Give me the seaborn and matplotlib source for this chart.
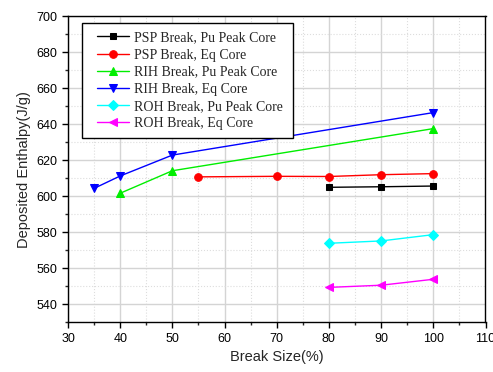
import matplotlib
matplotlib.use("Agg")
import matplotlib.pyplot as plt
import seaborn as sns
from matplotlib.ticker import MultipleLocator
from matplotlib.legend_handler import HandlerLine2D

# Data
psp_pu_x = [80, 90, 100]
psp_pu_y = [605.0, 605.3, 605.7]
psp_eq_x = [55, 70, 80, 90, 100]
psp_eq_y = [610.8, 611.1, 611.0, 612.0, 612.6]
rih_pu_x = [40, 50, 100]
rih_pu_y = [601.7, 614.2, 637.6]
rih_eq_x = [35, 40, 50, 100]
rih_eq_y = [604.4, 611.3, 622.9, 646.5]
roh_pu_x = [80, 90, 100]
roh_pu_y = [573.9, 575.2, 578.7]
roh_eq_x = [80, 90, 100]
roh_eq_y = [549.4, 550.6, 553.9]

labels = ["PSP Break, Pu Peak Core", "PSP Break, Eq Core",
          "RIH Break, Pu Peak Core", "RIH Break, Eq Core",
          "ROH Break, Pu Peak Core", "ROH Break, Eq Core"]

sns.set_style("ticks")
plt.rcParams['font.family'] = ['Liberation Sans', 'DejaVu Sans']

fig = plt.figure(figsize=(4.93, 3.72), dpi=100)
ax = fig.add_axes([68/493, 1-322.3/372, (485.5-68)/493, (322.3-16.3)/372])

series = [
    (psp_pu_x, psp_pu_y, "black", "s", 5.0),
    (psp_eq_x, psp_eq_y, "red", "o", 5.5),
    (rih_pu_x, rih_pu_y, "#00ee00", "^", 6.0),
    (rih_eq_x, rih_eq_y, "blue", "v", 6.0),
    (roh_pu_x, roh_pu_y, "cyan", "D", 5.0),
    (roh_eq_x, roh_eq_y, "magenta", "<", 6.0),
]
for (x, y, c, m, ms), lab in zip(series, labels):
    sns.lineplot(x=x, y=y, ax=ax, color=c, marker=m, markersize=ms,
                 markeredgecolor=c, linewidth=1.0, label=lab)

ax.set_xlim(30, 110)
ax.set_ylim(530, 700)
ax.xaxis.set_major_locator(MultipleLocator(10))
ax.xaxis.set_minor_locator(MultipleLocator(5))
ax.yaxis.set_major_locator(MultipleLocator(20))
ax.yaxis.set_minor_locator(MultipleLocator(10))
ax.set_yticks([540, 560, 580, 600, 620, 640, 660, 680, 700])
ax.grid(which="major", color="#d4d4d4", linewidth=1.0, linestyle="-")
ax.grid(which="minor", color="#dddddd", linewidth=0.8, linestyle=":")
ax.set_axisbelow(True)
for s in ax.spines.values():
    s.set_visible(True)
    s.set_color("black")
    s.set_linewidth(1.0)
ax.tick_params(which="major", direction="out", length=4, width=1, labelsize=9, colors="black")
ax.tick_params(which="minor", direction="out", length=2, width=1)

ax.set_xlabel("Break Size(%)", fontsize=10.5)
ax.set_ylabel("Deposited Enthalpy(J/g)", fontsize=10.5)

x0, y0 = 82/493, 1-135.7/372
w, h = (293-82)/493, (135.7-23)/372
leg = ax.legend(loc="upper left", bbox_to_anchor=(x0, y0, w, h),
                bbox_transform=fig.transFigure, borderaxespad=0, mode="expand",
                prop={"family": "Liberation Serif", "size": 10},
                frameon=True, fancybox=False, edgecolor="black",
                framealpha=1, handlelength=2.75, labelspacing=0.3,
                handletextpad=0.36, borderpad=0.6,
                handler_map={matplotlib.lines.Line2D: HandlerLine2D(xpad=0.5)})
leg.get_frame().set_linewidth(1.0)

fig.savefig("out.png", dpi=100)
